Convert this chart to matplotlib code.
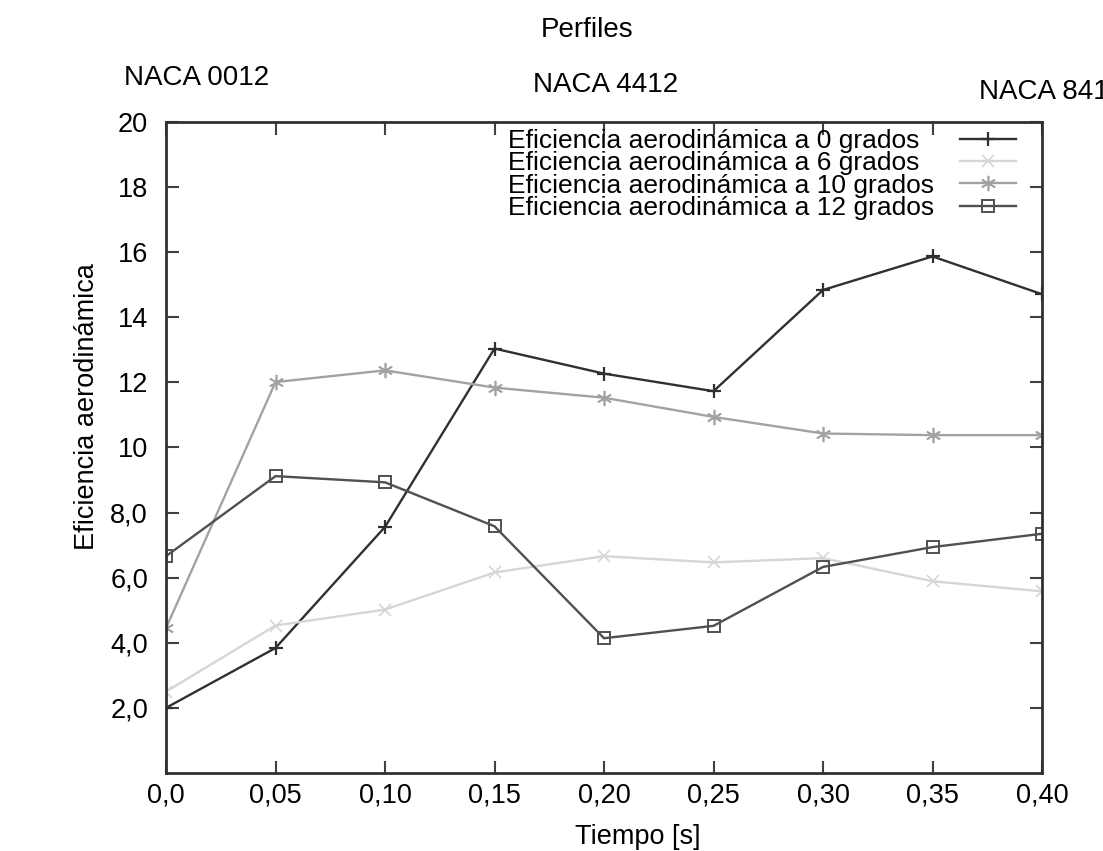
import matplotlib
matplotlib.use("Agg")
import matplotlib.pyplot as plt

plt.rcParams['font.family'] = ['Liberation Sans', 'DejaVu Sans']

# Time samples [s]
tiempo = [0.0, 0.05, 0.10, 0.15, 0.20, 0.25, 0.30, 0.35, 0.40]

# Aerodynamic efficiency at each angle of attack
ef_0 = [2.0, 3.84, 7.56, 13.04, 12.27, 11.73, 14.84, 15.87, 14.71]
ef_6 = [2.5, 4.53, 5.02, 6.16, 6.66, 6.47, 6.60, 5.89, 5.58]
ef_10 = [4.45, 12.01, 12.37, 11.84, 11.53, 10.94, 10.43, 10.38, 10.38]
ef_12 = [6.66, 9.12, 8.93, 7.58, 4.14, 4.52, 6.33, 6.94, 7.35]

series_labels = [
    "Eficiencia aerodinámica a 0 grados",
    "Eficiencia aerodinámica a 6 grados",
    "Eficiencia aerodinámica a 10 grados",
    "Eficiencia aerodinámica a 12 grados",
]

x_ticks = [0.0, 0.05, 0.10, 0.15, 0.20, 0.25, 0.30, 0.35, 0.40]
x_tick_labels = ["0,0", "0,05", "0,10", "0,15", "0,20", "0,25", "0,30", "0,35", "0,40"]
y_ticks = [2, 4, 6, 8, 10, 12, 14, 16, 18, 20]
y_tick_labels = ["2,0", "4,0", "6,0", "8,0", "10", "12", "14", "16", "18", "20"]

profile_names = ["NACA 0012", "NACA 4412", "NACA 8412"]

fig = plt.figure(figsize=(11.03, 8.51), dpi=100)
ax = fig.add_axes([0.1505, 0.0917, 0.7942, 0.7649])

styles = [
    dict(color="#303030", marker="+", ms=10, mew=1.6, lw=1.7),
    dict(color="#d6d6d6", marker="x", ms=9, mew=1.2, lw=1.7),
    dict(color="#a2a2a2", marker=(6, 2, 0), ms=11, mew=1.2, lw=1.7),
    dict(color="#505050", marker="s", ms=8, mew=1.4, mfc="none", lw=1.7),
]
for data, lab, st in zip([ef_0, ef_6, ef_10, ef_12], series_labels, styles):
    ax.plot(tiempo, data, label=lab, **st)

ax.set_xlim(0, 0.40)
ax.set_ylim(0, 20)
ax.set_xticks(x_ticks)
ax.set_xticklabels(x_tick_labels)
ax.set_yticks(y_ticks)
ax.set_yticklabels(y_tick_labels)
ax.tick_params(axis="both", direction="in", length=9, width=1.5, color="#404040",
               labelsize=19.5, top=True, right=True)
ax.tick_params(axis="x", pad=7)
ax.tick_params(axis="y", pad=13)

for sp in ax.spines.values():
    sp.set_linewidth(2)
    sp.set_color("#303030")

ax.set_xlabel("Tiempo [s]", fontsize=19.5)
ax.set_ylabel("Eficiencia aerodinámica", fontsize=19.5)
ax.xaxis.set_label_coords(0.538, -0.078)
ax.yaxis.set_label_coords(-0.075, 0.563)

leg = ax.legend(loc="upper right", bbox_to_anchor=(0.982, 1.005), frameon=False,
                markerfirst=False, fontsize=19, handlelength=2.1,
                labelspacing=-0.07, handletextpad=0.98, borderaxespad=0.0)

# Left-align the legend labels while keeping the line samples in one column
fig.canvas.draw()
renderer = fig.canvas.get_renderer()
rows = [row for col in leg._legend_handle_box.get_children() for row in col.get_children()]
row_width = max(r.get_bbox(renderer).width for r in rows)
for r in rows:
    r.mode = "expand"
    r.width = row_width

fig.text(0.532, 0.965, "Perfiles", fontsize=20, ha="center", va="center")
fig.text(0.178, 0.908, profile_names[0], fontsize=20, ha="center", va="center")
fig.text(0.549, 0.900, profile_names[1], fontsize=20, ha="center", va="center")
fig.text(0.888, 0.892, profile_names[2], fontsize=20, ha="left", va="center")

fig.savefig("out.png", dpi=100)
